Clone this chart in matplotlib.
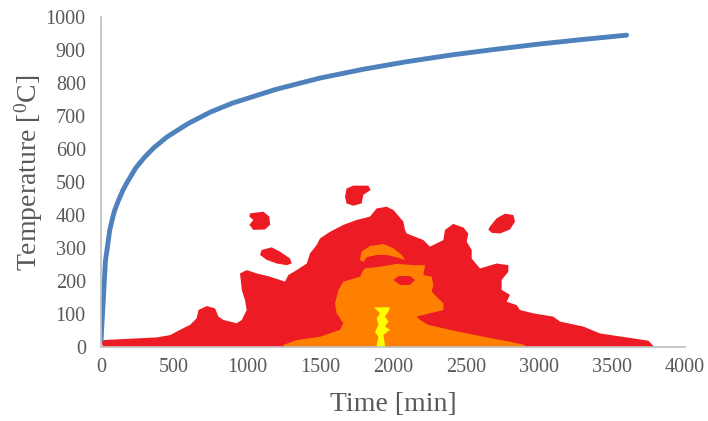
import numpy as np
import matplotlib.pyplot as plt

plt.rcParams['font.family'] = ['Liberation Serif', 'DejaVu Serif']
plt.rcParams['mathtext.fontset'] = 'custom'
plt.rcParams['mathtext.rm'] = 'Liberation Serif'

# fire curve
time_pts = [0, 30, 60, 90, 120, 150, 180, 240, 300, 360, 450, 600, 750, 900, 1200,
            1500, 1800, 2100, 2400, 2700, 3000, 3300, 3600]
temp_pts = [20, 260, 355, 410, 445, 475, 500, 544, 576, 603, 636, 678, 712, 739, 781,
            815, 842, 865, 885, 902, 918, 932, 945]

# outlines of the coloured zones (time, temperature)
red_x = [16, 381, 473, 541, 610, 655, 667, 724, 781, 804, 838, 929, 964, 998, 986, 964,
         952, 998, 1066, 1158, 1260, 1283, 1340, 1409, 1432, 1477, 1500, 1568, 1660, 1751,
         1842, 1888, 1957, 2003, 2071, 2082, 2094, 2208, 2253, 2345, 2356, 2413, 2482, 2516,
         2505, 2539, 2539, 2596, 2710, 2790, 2790, 2744, 2744, 2801, 2779, 2847, 2870, 2961,
         3098, 3144, 3303, 3418, 3646, 3749, 3784, 3784, 16, 5]
red_y = [21, 29, 36, 52, 67, 87, 112, 124, 117, 92, 82, 72, 82, 112, 142, 173,
         223, 233, 223, 213, 198, 218, 233, 253, 284, 309, 329, 349, 370, 385,
         395, 420, 425, 415, 380, 355, 344, 324, 304, 324, 355, 373, 362, 344,
         319, 294, 268, 238, 253, 248, 228, 203, 173, 158, 137, 127, 112, 102,
         92, 77, 62, 41, 26, 19, 3, 0, 0, 10]

blob1_x = [1682, 1728, 1831, 1847, 1797, 1785, 1728, 1682, 1671]
blob1_y = [480, 489, 489, 476, 461, 435, 428, 435, 455]
blob2_x = [1021, 1112, 1153, 1158, 1123, 1043, 1016, 1043, 1016]
blob2_y = [405, 410, 395, 370, 356, 355, 370, 385, 395]
blob3_x = [1100, 1169, 1226, 1295, 1306, 1272, 1203, 1135, 1089]
blob3_y = [294, 302, 289, 268, 253, 248, 253, 264, 279]
blob4_x = [2664, 2710, 2767, 2824, 2836, 2801, 2733, 2676, 2653]
blob4_y = [365, 390, 404, 400, 380, 356, 344, 346, 356]

orange_x = [1249, 1340, 1500, 1637, 1660, 1614, 1603, 1626, 1660, 1774, 1797, 1808, 1911,
            2025, 2139, 2219, 2208, 2265, 2276, 2265, 2299, 2345, 2345, 2253, 2162, 2185,
            2242, 2390, 2619, 2801, 2904, 2904, 1249]
orange_y = [6, 21, 31, 52, 72, 102, 132, 173, 198, 213, 233, 238, 243,
            252, 248, 248, 218, 213, 188, 168, 152, 132, 112, 102, 92, 82,
            67, 52, 31, 16, 6, 0, 0]

cap_x = [1774, 1785, 1842, 1934, 2003, 2059, 2082, 2025, 1957, 1888, 1820, 1797]
cap_y = [264, 289, 306, 312, 299, 279, 264, 272, 279, 279, 272, 258]

hole_x = [2003, 2037, 2116, 2151, 2116, 2048]
hole_y = [203, 215, 215, 203, 188, 188]

yellow_x = [1870, 1979, 1968, 1945, 1968, 1945, 1979, 1934, 1945, 1945, 1888, 1888,
            1900, 1877, 1900, 1888, 1911]
yellow_y = [120, 120, 107, 92, 77, 62, 52, 36, 6, 0, 0, 6,
            31, 46, 67, 87, 102]

red = '#ED1C24'
orange = '#FF7F00'
yellow = '#FFFF00'

fig = plt.figure(figsize=(7.08, 4.21), dpi=100)
ax = fig.add_axes([0.1427, 0.1758, 0.8248, 0.7838])

ax.fill(red_x, red_y, color=red, lw=0)
for bx, by in [(blob1_x, blob1_y), (blob2_x, blob2_y), (blob3_x, blob3_y), (blob4_x, blob4_y)]:
    ax.fill(bx, by, color=red, lw=0)
ax.fill(orange_x, orange_y, color=orange, lw=0)
ax.fill(cap_x, cap_y, color=orange, lw=0)
ax.fill(hole_x, hole_y, color=red, lw=0)
ax.fill(yellow_x, yellow_y, color=yellow, lw=0)

ax.plot(time_pts, temp_pts, color='#4F81BD', lw=3.5, solid_capstyle='round', zorder=5)

ax.set_xlim(0, 4000)
ax.set_ylim(0, 1000)
ax.set_xticks(np.arange(0, 4001, 500))
ax.set_yticks(np.arange(0, 1001, 100))
ax.tick_params(length=0, labelsize=14.5, labelcolor='#595959')
ax.tick_params(axis='y', pad=11)
ax.tick_params(axis='x', pad=8)
for s in ['top', 'right']:
    ax.spines[s].set_visible(False)
for s in ['left', 'bottom']:
    ax.spines[s].set_color('#BFBFBF')
    ax.spines[s].set_linewidth(1.2)
    ax.spines[s].set_zorder(6)

ax.set_xlabel('Time [min]', fontsize=20, color='#595959', va='center')
ax.set_ylabel(r'Temperature [$\mathregular{^0}$C]', fontsize=20, color='#595959',
              va='center', ha='center')
ax.xaxis.set_label_coords(0.5, -0.174)
ax.yaxis.set_label_coords(-0.123, 0.527)

fig.savefig('out.png', dpi=100)
